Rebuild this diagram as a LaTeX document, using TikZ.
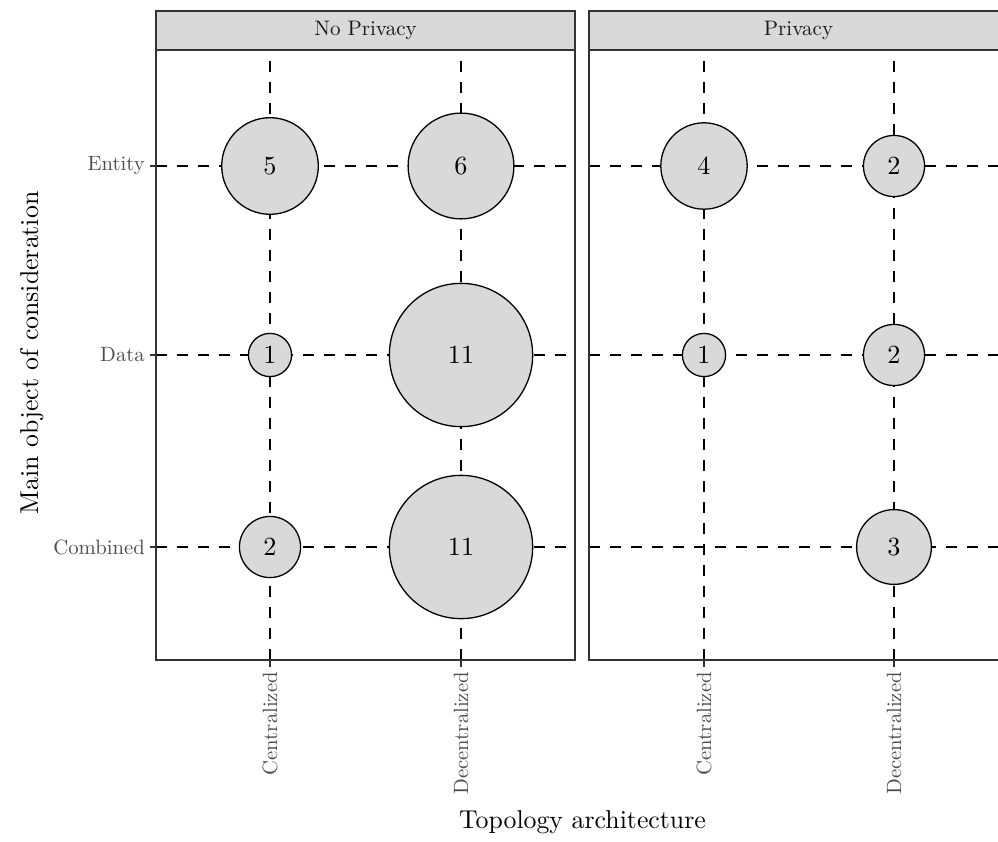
\documentclass[tikz,border=0pt]{standalone}
\usepackage{graphicx}
\usepackage{tikz}
\definecolor{stripfill}{HTML}{D9D9D9}
\definecolor{framecol}{HTML}{333333}
\definecolor{ticktext}{HTML}{4D4D4D}
\definecolor{striptext}{HTML}{1A1A1A}
\newcommand{\tk}[1]{\scalebox{2.07}{\normalsize #1}}
\newcommand{\bt}[1]{\scalebox{2.62}{\normalsize #1}}
\newcommand{\ttl}[1]{\scalebox{2.58}{\normalsize #1}}
\tikzset{
  gridline/.style={black, line width=2pt, dash pattern=on 11pt off 10pt},
  bub/.style={circle, draw=black, line width=1.3pt, fill=stripfill, inner sep=0pt,
              minimum size=#1},
  panelbox/.style={draw=framecol, line width=1.6pt},
  stripbox/.style={draw=framecol, line width=1.6pt, fill=stripfill},
  striplabel/.style={text=striptext, inner sep=0pt},
  ticklabel/.style={text=ticktext, inner sep=0pt},
  tickmark/.style={draw=framecol, line width=1.6pt},
  axtitle/.style={text=black, inner sep=0pt}
}
\begin{document}
\begin{tikzpicture}[x=1pt, y=-1pt]
\useasboundingbox (0,0) rectangle (998,842);
\clip (0,0) rectangle (998,842);

% strips
\draw[stripbox] (156,11) rectangle (575,50);
\draw[stripbox] (589,11) rectangle (1008,50);
\node[striplabel] (s1) at (365.5,30.5) {\scalebox{2.1}{\normalsize No Privacy}};
\node[striplabel] (s2) at (798.5,30.5) {\scalebox{2.1}{\normalsize Privacy}};

% grid coordinates
\coordinate (L1t) at (270,50);  \coordinate (L1b) at (270,660);
\coordinate (L2t) at (461,50);  \coordinate (L2b) at (461,660);
\coordinate (R1t) at (704,50);  \coordinate (R1b) at (704,660);
\coordinate (R2t) at (894,50);  \coordinate (R2b) at (894,660);
\coordinate (LEl) at (156,166); \coordinate (LEr) at (575,166);
\coordinate (LDl) at (156,355); \coordinate (LDr) at (575,355);
\coordinate (LCl) at (156,547); \coordinate (LCr) at (575,547);
\coordinate (REl) at (589,166); \coordinate (REr) at (1008,166);
\coordinate (RDl) at (589,355); \coordinate (RDr) at (1008,355);
\coordinate (RCl) at (589,547); \coordinate (RCr) at (1008,547);

% dashed grid
\foreach \a/\b in {L1b/L1t, L2b/L2t, R1b/R1t, R2b/R2t,
                   LEl/LEr, LDl/LDr, LCl/LCr, REl/REr, RDl/RDr, RCl/RCr}
  \draw[gridline] (\a) -- (\b);

% bubbles  (r = 21.6*sqrt(n))
\node[bub=96.6pt]  (a1) at (270,166) {\bt{5}};
\node[bub=105.8pt] (a2) at (461,166) {\bt{6}};
\node[bub=43.2pt]  (a3) at (270,355) {\bt{1}};
\node[bub=143.3pt] (a4) at (461,355) {\bt{11}};
\node[bub=61.1pt]  (a5) at (270,547) {\bt{2}};
\node[bub=143.3pt] (a6) at (461,547) {\bt{11}};
\node[bub=86.4pt]  (b1) at (704,166) {\bt{4}};
\node[bub=61.1pt]  (b2) at (894,166) {\bt{2}};
\node[bub=43.2pt]  (b3) at (704,355) {\bt{1}};
\node[bub=61.1pt]  (b4) at (894,355) {\bt{2}};
\node[bub=74.8pt]  (b5) at (894,547) {\bt{3}};

% panel frames
\draw[panelbox] (156,50) rectangle (575,660);
\draw[panelbox] (589,50) rectangle (1008,660);

% y ticks
\coordinate (tE) at (150,166); \coordinate (tD) at (150,355); \coordinate (tC) at (150,547);
\draw[tickmark] (tE) -- (LEl);
\draw[tickmark] (tD) -- (LDl);
\draw[tickmark] (tC) -- (LCl);
\node[ticklabel, anchor=east] (yE) at (145,166) {\tk{Entity}};
\node[ticklabel, anchor=east] (yD) at (145,355) {\tk{Data}};
\node[ticklabel, anchor=east] (yC) at (145,547) {\tk{Combined}};

% x ticks
\foreach \c/\x in {L1b/270, L2b/461, R1b/704, R2b/894}{
  \coordinate (k\c) at (\x,667);
  \draw[tickmark] (\c) -- (k\c);
}
\node[ticklabel, rotate=90, anchor=east] (x1) at (270,672) {\tk{Centralized}};
\node[ticklabel, rotate=90, anchor=east] (x2) at (461,672) {\tk{Decentralized}};
\node[ticklabel, rotate=90, anchor=east] (x3) at (704,672) {\tk{Centralized}};
\node[ticklabel, rotate=90, anchor=east] (x4) at (894,672) {\tk{Decentralized}};

% axis titles
\node[axtitle, anchor=base] (xt) at (582.5,828) {\ttl{Topology architecture}};
\node[axtitle, rotate=90, anchor=base] (yt) at (38,353) {\ttl{Main object of consideration}};
\end{tikzpicture}
\end{document}
